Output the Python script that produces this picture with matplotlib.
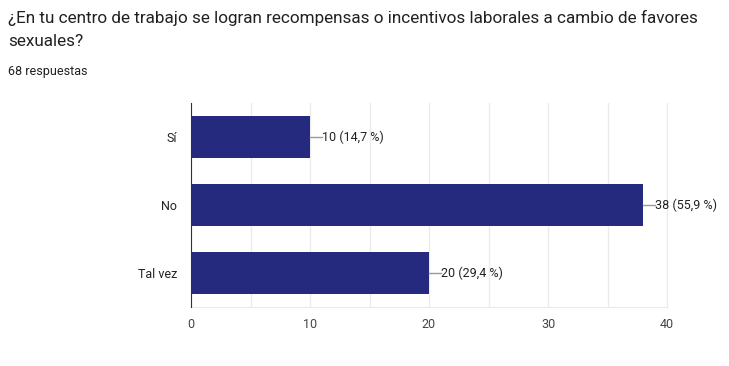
import matplotlib.pyplot as plt

categorias = ['Sí', 'No', 'Tal vez']
valores = [10, 38, 20]
porcentajes = ['14,7', '55,9', '29,4']

plt.rcParams['font.family'] = ['Roboto', 'DejaVu Sans']

fig = plt.figure(figsize=(7.29, 3.66), dpi=100)
ax = fig.add_axes([191 / 729, 1 - 307 / 366, 476 / 729, 204 / 366])

pos = list(range(len(categorias)))
ax.barh(pos, valores, height=0.62, color='#252a7f', zorder=3)

for p, v, pc in zip(pos, valores, porcentajes):
    ax.plot([v, v + 1.0], [p, p], color='#999999', lw=1, zorder=3, clip_on=False)
    ax.text(v + 1.0, p, f'{v} ({pc} %)', va='center', ha='left', fontsize=9, color='#222222')

ax.set_xlim(0, 40)
ax.set_ylim(2.5, -0.5)
ax.set_yticks(pos)
ax.set_yticklabels(categorias)
ax.set_xticks([0, 10, 20, 30, 40])
ax.set_xticks([5, 15, 25, 35], minor=True)
ax.grid(axis='x', which='both', color='#ebebeb', lw=1, zorder=0)
ax.tick_params(axis='both', which='both', length=0, labelsize=9, colors='#444444')
ax.tick_params(axis='y', pad=10, colors='#222222')
ax.tick_params(axis='x', pad=8)

ax.spines['top'].set_visible(False)
ax.spines['right'].set_color('#ebebeb')
ax.spines['bottom'].set_color('#ebebeb')
ax.spines['left'].set_color('#333333')
ax.spines['left'].set_zorder(4)

fig.text(8 / 729, 1 - 18 / 366, '¿En tu centro de trabajo se logran recompensas o incentivos laborales a cambio de favores',
         fontsize=12.3, color='#202124', va='center')
fig.text(8 / 729, 1 - 42 / 366, 'sexuales?', fontsize=12.3, color='#202124', va='center')
fig.text(8 / 729, 1 - 71 / 366, '68 respuestas', fontsize=9, color='#202124', va='center')

fig.savefig('out.png', dpi=100)
